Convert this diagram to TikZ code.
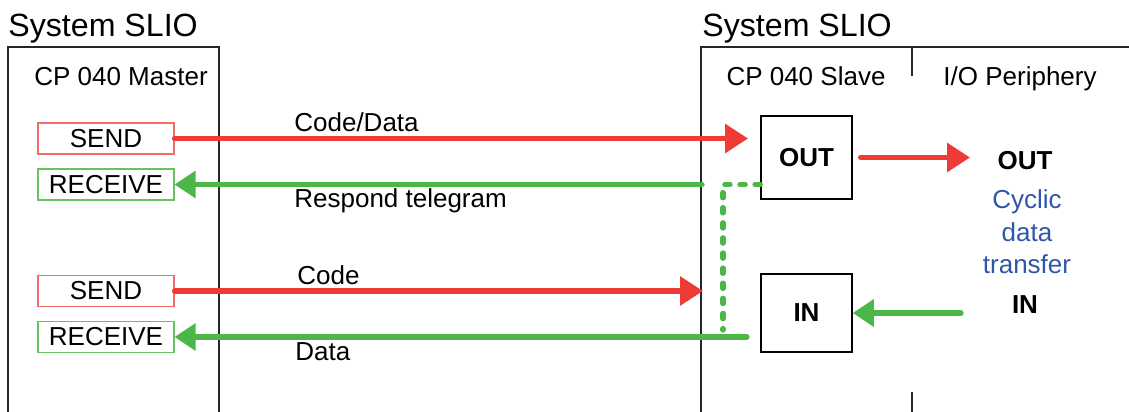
\documentclass[tikz,border=0pt]{standalone}
\usepackage{fontspec}
\setmainfont{Liberation Sans}
\usetikzlibrary{arrows.meta}
\definecolor{arrred}{RGB}{238,59,54}
\definecolor{arrgreen}{RGB}{76,183,72}
\definecolor{txtblue}{RGB}{47,87,168}
\newcommand{\basefont}{\fontsize{14.8}{17}\selectfont}
\newcommand{\titlefont}{\fontsize{18.3}{22}\selectfont}
\tikzstyle{frame}=[line width=0.8pt, black!85]
\tikzstyle{lbl}=[inner sep=0pt, font=\basefont]
\tikzstyle{sendbox}=[draw=arrred!75, line width=0.6pt, minimum width=2.72cm, minimum height=0.62cm, inner sep=0pt, font=\basefont]
\tikzstyle{recvbox}=[draw=arrgreen!85, line width=0.6pt, minimum width=2.72cm, minimum height=0.62cm, inner sep=0pt, font=\basefont]
\tikzstyle{iobox}=[draw, line width=0.8pt, minimum width=1.82cm, inner sep=0pt, font=\basefont\bfseries]
\tikzstyle{redarr}=[arrred, line width=3pt, line cap=round, -{Triangle[length=13pt, width=16pt]}]
\tikzstyle{greenarr}=[arrgreen, line width=3pt, line cap=round, -{Triangle[length=12pt, width=15pt]}]
\tikzstyle{dashln}=[arrgreen, line width=3pt, line cap=round, dash pattern=on 3pt off 5.6pt]

\begin{document}
\begin{tikzpicture}[x=0.02cm, y=-0.02cm]
    \useasboundingbox (0,0) rectangle (1129,412);
    \draw[frame] (8,412) -- (8,47) -- (219,47) -- (219,412);
    \draw[frame] (701,412) -- (701,47) -- (1129,47);
    \draw[frame] (912,47) -- (912,76);
    \draw[frame] (912,392) -- (912,412);
    \node[lbl, anchor=base west, font=\titlefont] (sys1) at (8,37) {System SLIO};
    \node[lbl, anchor=base west, font=\titlefont] (sys2) at (702,37) {System SLIO};
    \node[lbl, anchor=base] (master) at (121,86) {CP 040 Master};
    \node[lbl, anchor=base] (slave) at (806,86) {CP 040 Slave};
    \node[lbl, anchor=base] (periph) at (1020,86) {I/O Periphery};
    \node[sendbox] (send1) at (106,138.5) {SEND};
    \node[recvbox] (recv1) at (106,184.5) {RECEIVE};
    \node[sendbox] (send2) at (106,291) {SEND};
    \node[recvbox] (recv2) at (106,337) {RECEIVE};
    \node[iobox, minimum height=1.66cm] (out) at (806.5,157.5) {OUT};
    \node[iobox, minimum height=1.56cm] (in) at (806.5,313) {IN};
    \node[lbl, anchor=base, font=\basefont\bfseries] (outlbl) at (1025,170) {OUT};
    \node[lbl, anchor=base, font=\basefont\bfseries] (inlbl) at (1025,313) {IN};
    \node[lbl, anchor=north, align=center, text=txtblue, font=\fontsize{14.8}{18.7}\selectfont] (cyclic) at (1027,189) {Cyclic\\data\\transfer};
    \node[lbl, anchor=base west] (lcd) at (294,132) {Code/Data};
    \node[lbl, anchor=base west] (lresp) at (294,207) {Respond telegram};
    \node[lbl, anchor=base west] (lcode) at (297,284) {Code};
    \node[lbl, anchor=base west] (ldata) at (295,360) {Data};
    \coordinate (c1) at (748,138.5);
    \coordinate (c2) at (702,184.5);
    \coordinate (c3) at (703,291);
    \coordinate (c4) at (747,337);
    \coordinate (c5) at (970,157.5);
    \coordinate (c6) at (961,313);
    \coordinate (d1) at (723,184.5);
    \coordinate (d2) at (723,330);
    \draw[redarr] (send1.east) -- (c1);
    \draw[greenarr] (c2) -- (recv1.east);
    \draw[redarr] (send2.east) -- (c3);
    \draw[greenarr] (c4) -- (recv2.east);
    \draw[redarr, shorten <=4.5pt] (out.east) -- (c5);
    \draw[greenarr] (c6) -- (in.east);
    \draw[dashln] (out.west |- d1) -- (d1) -- (d2);
\end{tikzpicture}
\end{document}
